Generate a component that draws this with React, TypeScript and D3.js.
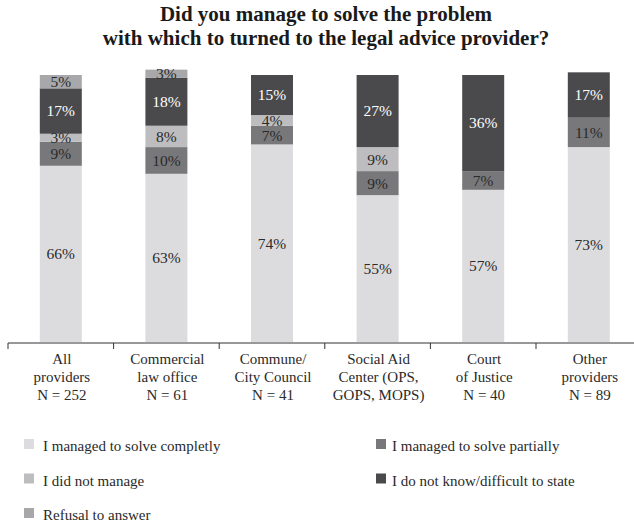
import React from "react";
import * as d3 from "d3";

const categoryLines: string[][] = [
  ["All", "providers", "N = 252"],
  ["Commercial", "law office", "N = 61"],
  ["Commune/", "City Council", "N = 41"],
  ["Social Aid", "Center (OPS,", "GOPS, MOPS)"],
  ["Court", "of Justice", "N = 40"],
  ["Other", "providers", "N = 89"],
];

const seriesNames = [
  "I managed to solve completly",
  "I managed to solve partially",
  "I did not manage",
  "I do not know/difficult to state",
  "Refusal to answer",
];

const completely = [66, 63, 74, 55, 57, 73];
const partially = [9, 10, 7, 9, 7, 11];
const notManage = [3, 8, 4, 9, 0, 0];
const dontKnow = [17, 18, 15, 27, 36, 17];
const refusal = [5, 3, 0, 0, 0, 0];

const colors = ["#dcdcde", "#78787b", "#bdbdbf", "#4a4a4c", "#a8a8aa"];
const labelColors = ["#2a2a2a", "#2a2a2a", "#2a2a2a", "#ffffff", "#2a2a2a"];

const titleLines = [
  "Did you manage to solve the problem",
  "with which to turned to the legal advice provider?",
];

// legend layout: [seriesIndex, column, row]
const legendItems: [number, number, number][] = [
  [0, 0, 0],
  [1, 1, 0],
  [2, 0, 1],
  [3, 1, 1],
  [4, 0, 2],
];

const W = 634;
const H = 525;
const FONT = "'Liberation Serif', 'Times New Roman', Times, serif";

export default function App() {
  const keys = ["c", "p", "n", "d", "r"];
  const table = categoryLines.map((_, i) => ({
    i,
    c: completely[i],
    p: partially[i],
    n: notManage[i],
    d: dontKnow[i],
    r: refusal[i],
  }));
  const stack = d3.stack<any>().keys(keys);
  const layers = stack(table);

  const step = 105.6;
  const x0 = 8;
  const x = d3
    .scaleBand<number>()
    .domain(categoryLines.map((_, i) => i))
    .range([x0, x0 + step * categoryLines.length])
    .paddingInner(0)
    .paddingOuter(0);
  const barW = 42;
  const y = d3.scaleLinear().domain([0, 100]).range([342, 75]);

  const axisY = 343;
  const tickLen = 6;

  const legendLeftX = [24, 376];
  const legendTop = 439;
  const legendRowStep = 34.5;
  const sq = 10;

  return (
    <svg
      width={W}
      height={H}
      style={{ position: "absolute", left: 0, top: 0, background: "#fff" }}
      fontFamily={FONT}
    >
      {/* title */}
      {titleLines.map((t, k) => (
        <text
          key={k}
          x={326}
          y={21 + k * 24}
          textAnchor="middle"
          fontWeight="bold"
          fontSize={21}
          fill="#1a1a1a"
        >
          {t}
        </text>
      ))}

      {/* bars */}
      {layers.map((layer, li) => (
        <g key={li}>
          {layer.map((seg: any, ci: number) => {
            const v = seg[1] - seg[0];
            if (v <= 0) return null;
            const cx = (x(ci) as number) + x.bandwidth() / 2;
            return (
              <rect
                key={ci}
                x={cx - barW / 2}
                y={y(seg[1])}
                width={barW}
                height={y(seg[0]) - y(seg[1])}
                fill={colors[li]}
              />
            );
          })}
        </g>
      ))}

      {/* value labels */}
      {layers.map((layer, li) => (
        <g key={"l" + li}>
          {layer.map((seg: any, ci: number) => {
            const v = seg[1] - seg[0];
            if (v <= 0) return null;
            const cx = (x(ci) as number) + x.bandwidth() / 2;
            const cy = (y(seg[0]) + y(seg[1])) / 2;
            return (
              <text
                key={ci}
                x={cx}
                y={cy}
                dy="0.35em"
                textAnchor="middle"
                fontSize={15.5}
                fill={labelColors[li]}
              >
                {v + "%"}
              </text>
            );
          })}
        </g>
      ))}

      {/* axis */}
      <line x1={x0} x2={W} y1={axisY} y2={axisY} stroke="#333" strokeWidth={1} />
      {categoryLines.map((_, i) => (
        <line
          key={i}
          x1={x(i) as number}
          x2={x(i) as number}
          y1={axisY}
          y2={axisY + tickLen}
          stroke="#333"
          strokeWidth={1}
        />
      ))}
      {categoryLines.map((lines, i) => (
        <text
          key={i}
          textAnchor="middle"
          fontSize={15}
          fill="#2a2a2a"
        >
          {lines.map((ln, k) => (
            <tspan key={k} x={(x(i) as number) + x.bandwidth() / 2 + 1} y={364 + k * 18}>
              {ln}
            </tspan>
          ))}
        </text>
      ))}

      {/* legend */}
      {legendItems.map(([si, col, row]) => {
        const lx = legendLeftX[col];
        const ty = legendTop + row * legendRowStep;
        return (
          <g key={si}>
            <rect x={lx} y={ty} width={sq} height={sq} fill={colors[si]} />
            <text x={lx + (col === 0 ? 19 : 16)} y={ty + 12} fontSize={15} fill="#2a2a2a">
              {seriesNames[si]}
            </text>
          </g>
        );
      })}
    </svg>
  );
}
